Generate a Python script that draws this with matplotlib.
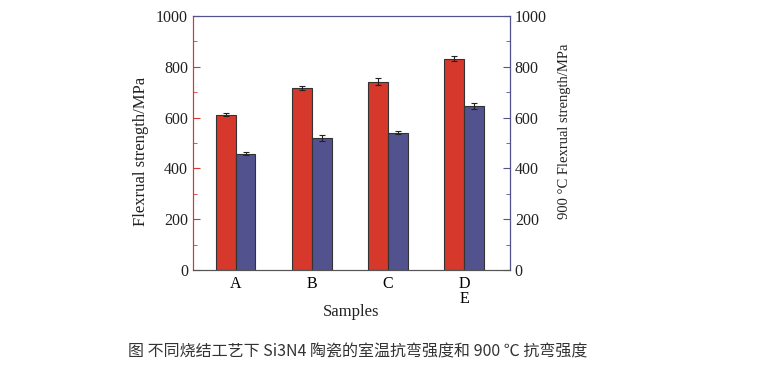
import matplotlib.pyplot as plt
import numpy as np

samples = ['A', 'B', 'C', 'D\nE']
rt_strength = [612, 717, 742, 832]
rt_err = [5, 9, 13, 10]
ht_strength = [458, 521, 541, 645]
ht_err = [7, 12, 7, 11]

red = '#d6382b'
blue = '#52528f'

fig = plt.figure(figsize=(7.73, 3.73), dpi=100)
ax = fig.add_axes([193/773, 1-270/373, 317/773, 254/373])
ax2 = ax.twinx()

x = np.arange(len(samples))
w = 0.26
ax.bar(x - w/2, rt_strength, w, yerr=rt_err, color=red, edgecolor='#333333', linewidth=0.8,
       error_kw=dict(ecolor='#222222', elinewidth=0.8, capsize=2.5, capthick=0.8))
ax2.bar(x + w/2, ht_strength, w, yerr=ht_err, color=blue, edgecolor='#333333', linewidth=0.8,
        error_kw=dict(ecolor='#222222', elinewidth=0.8, capsize=2.5, capthick=0.8))

serif = 'Liberation Serif'
for a in (ax, ax2):
    a.set_ylim(0, 1000)
    a.set_yticks(range(0, 1001, 200))
    a.set_yticks(range(0, 1001, 100), minor=True)
    a.set_xlim(-0.56, 3.6)
    for lab in a.get_yticklabels():
        lab.set_fontfamily(serif)
        lab.set_fontsize(11.5)

ax.set_xticks(x)
ax.set_xticklabels(samples, fontfamily=serif, fontsize=11.5, linespacing=0.95)
ax.tick_params(axis='x', length=0, pad=4)
ax.tick_params(axis='y', which='both', direction='in', colors=red, labelcolor='#222222')
ax.tick_params(axis='y', which='major', length=5)
ax.tick_params(axis='y', which='minor', length=3)
ax2.tick_params(axis='y', which='both', direction='in', colors=blue, labelcolor='#222222')
ax2.tick_params(axis='y', which='major', length=5)
ax2.tick_params(axis='y', which='minor', length=3)

ax.spines['left'].set_color(red)
ax2.spines['left'].set_color(red)
ax2.spines['right'].set_color(blue)
ax2.spines['top'].set_color(blue)
ax.spines['top'].set_color(blue)
ax.spines['bottom'].set_color('#555555')
ax2.spines['bottom'].set_color('#555555')

ax.set_ylabel('Flexrual strength/MPa', fontfamily=serif, fontsize=12, color='#222222')
ax.yaxis.set_label_coords(-0.14, 0.465)
ax2.set_ylabel('900 °C Flexrual strength/MPa', fontfamily=serif, fontsize=10.5, color='#222222')
ax2.yaxis.set_label_coords(1.15, 0.547)
ax.set_xlabel('Samples', fontfamily=serif, fontsize=12, color='#222222')
ax.xaxis.set_label_coords(0.5, -0.135)

fig.text(128/773, 1-352/373, '图 不同烧结工艺下 Si3N4 陶瓷的室温抗弯强度和 900 ℃ 抗弯强度',
         fontfamily=['Noto Sans CJK SC', 'DejaVu Sans'], fontsize=11.5, color='#333333', va='center')

fig.savefig('out.png', dpi=100)
